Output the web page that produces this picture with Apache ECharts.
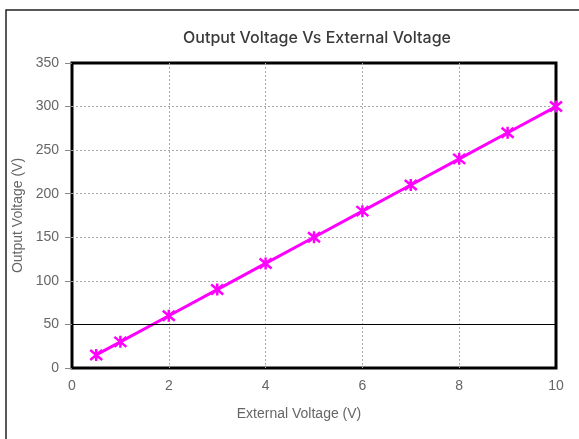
<!DOCTYPE html>
<html><head><meta charset="utf-8">
<script src="https://cdn.jsdelivr.net/npm/echarts@6/dist/echarts.min.js"></script>
<style>html,body{margin:0;padding:0;background:#fff}#c{width:579px;height:439px}</style>
</head><body><div id="c"></div>
<script>
const xValues = [0.5, 1, 2, 3, 4, 5, 6, 7, 8, 9, 10];
const yValues = [15, 30, 60, 90, 120, 150, 180, 210, 240, 270, 300];
const titleText = 'Output Voltage Vs External Voltage';
const xName = 'External Voltage (V)';
const yName = 'Output Voltage (V)';
const refLineValue = 50;

const chart = echarts.init(document.getElementById('c'), null, {renderer: 'canvas'});
const font = '"Liberation Sans", Arial, sans-serif';
chart.setOption({
  animation: false,
  textStyle: {fontFamily: font},
  graphic: [{type: 'rect', shape: {x: 6, y: 10, width: 600, height: 460}, style: {fill: 'none', stroke: '#222', lineWidth: 1.5}, z: -1}],
  title: {text: titleText, left: 312, top: 25, textAlign: 'center',
    textStyle: {fontSize: 16, fontWeight: 500, color: '#3a3a3a', fontFamily: 'Inter, "Liberation Sans", sans-serif'}},
  grid: {left: 72, right: 23, top: 63, bottom: 71, show: true, borderColor: '#000', borderWidth: 3},
  xAxis: {type: 'value', min: 0, max: 10, interval: 2, name: xName, nameLocation: 'middle', nameGap: 39,
    nameTextStyle: {fontSize: 14, color: '#666', padding: [0, 30, 0, 0]},
    axisLine: {show: false}, axisTick: {show: false},
    axisLabel: {fontSize: 14, color: '#666', margin: 11},
    splitLine: {show: true, showMinLine: false, showMaxLine: false, lineStyle: {color: '#aaa', type: [2, 2], width: 1}}},
  yAxis: {type: 'value', min: 0, max: 350, interval: 50, name: yName, nameLocation: 'middle', nameGap: 46,
    nameTextStyle: {fontSize: 14, color: '#666'},
    axisLine: {show: false}, axisTick: {show: true, length: 7, lineStyle: {color: '#888'}},
    axisLabel: {fontSize: 14, color: '#666', margin: 13},
    splitLine: {show: true, showMinLine: false, showMaxLine: false, lineStyle: {color: '#aaa', type: [2, 2], width: 1}}},
  series: [{
    type: 'line',
    data: xValues.map((x, i) => [x, yValues[i]]),
    lineStyle: {color: '#ff00ff', width: 3},
    symbol: 'path://M0 0L10 10M10 0L0 10M5 -1L5 11',
    symbolSize: 12,
    itemStyle: {color: 'rgba(0,0,0,0)', borderColor: '#ff00ff', borderWidth: 2.5},
    markLine: {silent: true, symbol: 'none', label: {show: false},
      lineStyle: {color: '#000', type: 'solid', width: 1},
      data: [{yAxis: refLineValue}]},
    z: 3
  }]
});
</script></body></html>
